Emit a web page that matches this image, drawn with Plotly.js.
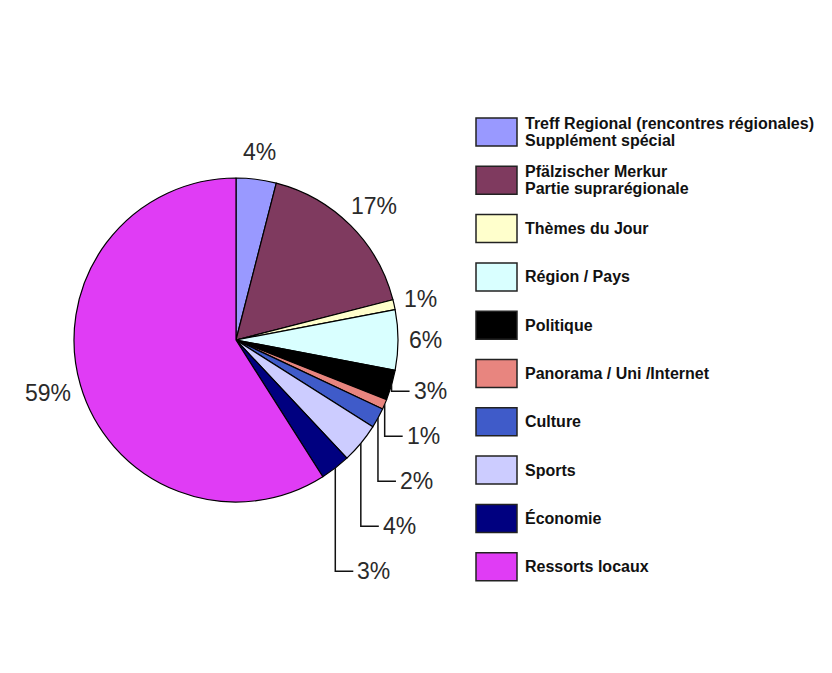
<!DOCTYPE html>
<html>
<head>
<meta charset="utf-8">
<script src="https://cdn.plot.ly/plotly-3.0.1.min.js"></script>
<style>html,body{margin:0;padding:0;background:#fff;}#chart{width:832px;height:673px;}</style>
</head>
<body>
<div id="chart"></div>
<script>
// ---- Data ----
var categories = [
  "Treff Regional (rencontres régionales)<br>Supplément spécial",
  "Pfälzischer Merkur<br>Partie suprarégionale",
  "Thèmes du Jour",
  "Région / Pays",
  "Politique",
  "Panorama / Uni /Internet",
  "Culture",
  "Sports",
  "Économie",
  "Ressorts locaux"
];
var shares = [4, 17, 1, 6, 3, 1, 2, 4, 3, 59];
var colors = ["#9999FF", "#7F3A5F", "#FFFFCC", "#D9FFFF", "#000000", "#E8857F", "#3F5BC9", "#CCCCFF", "#000080", "#E03CF5"];

// ---- Layout constants (pixels) ----
var W = 832, H = 673;
var PX0 = 74, PX1 = 398, PY0 = 178, PY1 = 502;
var cx = (PX0 + PX1) / 2, cy = (PY0 + PY1) / 2, R = (PX1 - PX0) / 2;
var LBL_FONT = {family: "Liberation Sans, Arial, sans-serif", size: 23, color: "#2a2a2a"};
var LEG_FONT = {family: "Liberation Sans, Arial, sans-serif", size: 16, color: "#111"};

function px(x) { return x / W; }
function py(y) { return 1 - y / H; }

var pie = {
  type: "pie",
  labels: categories,
  values: shares,
  sort: false,
  direction: "clockwise",
  rotation: 0,
  marker: {colors: colors, line: {color: "#000", width: 1.2}},
  textinfo: "none",
  automargin: false,
  showlegend: false,
  hoverinfo: "label+percent",
  domain: {x: [px(PX0), px(PX1)], y: [py(PY1), py(PY0)]}
};

var shapes = [], annotations = [];

// ---- Percent labels (computed from the slice angles) ----
var total = shares.reduce(function (a, b) { return a + b; }, 0);
var cum = 0, prevStackY = -1e9;
shares.forEach(function (v, i) {
  var mid = (cum + v / 2) / total * 2 * Math.PI;
  cum += v;
  var s = Math.sin(mid), c = Math.cos(mid);
  var deg = mid * 180 / Math.PI;
  var txt = v + "%";
  if (deg > 100 && deg < 180) {
    // small slices on the lower right: stacked labels with elbow leader lines
    var ex = cx + R * s, ey = cy - R * c;
    var ly = Math.max(ey + 6, prevStackY + 45);
    prevStackY = ly;
    var lx = ex + 18;
    shapes.push({
      type: "path", xref: "paper", yref: "paper",
      path: "M" + px(ex) + "," + py(ey) + " L" + px(ex) + "," + py(ly) + " L" + px(lx) + "," + py(ly),
      line: {color: "#111", width: 1.5}
    });
    annotations.push({
      xref: "paper", yref: "paper", x: px(lx + 2), y: py(ly),
      xanchor: "left", yanchor: "middle", showarrow: false,
      text: txt, font: LBL_FONT
    });
  } else {
    var g = R + 14;
    var ax = cx + g * s, ay = cy - g * c;
    var w = txt.length * 13, h = 26;
    annotations.push({
      xref: "paper", yref: "paper", x: px(ax), y: py(ay),
      xanchor: "center", yanchor: "middle", showarrow: false,
      xshift: w / 2 * s, yshift: h / 2 * c,
      text: txt, font: LBL_FONT
    });
  }
});

// ---- Legend built from the category arrays ----
var lgX0 = 476, lgX1 = 517, lgTop = 118, lgStep = 48.3, boxH = 28, lineGap = 17;
categories.forEach(function (cat, i) {
  var y0 = lgTop + i * lgStep;
  shapes.push({
    type: "rect", xref: "paper", yref: "paper",
    x0: px(lgX0), x1: px(lgX1), y0: py(y0), y1: py(y0 + boxH),
    fillcolor: colors[i], line: {color: "#222", width: 1.5}
  });
  var lines = cat.split("<br>");
  var yc = y0 + boxH / 2 - (lines.length - 1) * lineGap / 2;
  lines.forEach(function (ln, k) {
    annotations.push({
      xref: "paper", yref: "paper", x: px(523), y: py(yc + k * lineGap),
      xanchor: "left", yanchor: "middle", align: "left", showarrow: false,
      text: "<b>" + ln + "</b>", font: LEG_FONT
    });
  });
});

var layout = {
  width: W, height: H,
  margin: {l: 0, r: 0, t: 0, b: 0},
  paper_bgcolor: "#fff",
  showlegend: false,
  shapes: shapes,
  annotations: annotations
};
Plotly.newPlot("chart", [pie], layout, {displayModeBar: false, staticPlot: true});
</script>
</body>
</html>
